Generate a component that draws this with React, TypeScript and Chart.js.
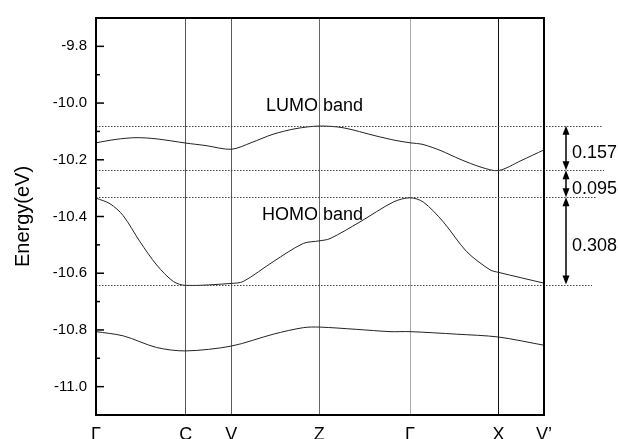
import { useEffect, useRef } from 'react';
import { Chart, registerables } from 'chart.js';

Chart.register(...registerables);

// k-path: high-symmetry point positions along the path and their labels
const kPositions = [0, 89.7, 135.3, 223.3, 314, 402.5, 448];
const kLabels = ['Γ', 'C', 'V', 'Z', 'Γ', 'X', 'V’'];

// LUMO band
const lumoK = [0, 20, 40, 60, 89.7, 110, 135.3, 155, 177, 200, 223.3, 247, 280, 300, 314, 327, 345, 364, 385, 402.5, 425, 448];
const lumoE = [-10.14, -10.128, -10.122, -10.126, -10.141, -10.15, -10.163, -10.14, -10.11, -10.09, -10.081, -10.087, -10.116, -10.132, -10.14, -10.146, -10.168, -10.198, -10.226, -10.238, -10.203, -10.165];

// HOMO band
const homoK = [0, 14, 27, 44, 60.7, 77.3, 89.7, 135.3, 147.3, 177.3, 207.3, 223.3, 234, 264, 297.3, 314, 327.3, 347.3, 370.7, 394, 402.5, 448];
const homoE = [-10.335, -10.355, -10.396, -10.489, -10.571, -10.629, -10.643, -10.636, -10.629, -10.559, -10.495, -10.486, -10.478, -10.419, -10.349, -10.334, -10.349, -10.419, -10.524, -10.588, -10.597, -10.635];

// lower band
const lowK = [0, 27.3, 60.7, 89.7, 135.3, 177.3, 207.3, 223.3, 260.7, 294, 314, 360.7, 402.5, 448];
const lowE = [-10.806, -10.821, -10.862, -10.874, -10.857, -10.815, -10.792, -10.79, -10.798, -10.806, -10.806, -10.815, -10.825, -10.854];

// energy levels (dotted) and gaps between them
const lumoMinLevel = -10.08;
const gaps = [0.157, 0.095, 0.308];

// y axis
const yMin = -11.1;
const yMax = -9.7;

const FONT = 'Liberation Sans, Arial, Helvetica, sans-serif';

const kLineColors = ['#000', '#555', '#5a5a5a', '#666', '#aaa', '#111', '#000'];
const levelLineExtents = [58, 60, 53, 48];

const levels: number[] = [lumoMinLevel];
gaps.forEach((g) => levels.push(levels[levels.length - 1] - g));

const toPts = (ks: number[], es: number[]) => ks.map((k, i) => ({ x: k, y: es[i] }));

const annotationPlugin = {
  id: 'bandAnnotations',
  afterDatasetsDraw(chart: any) {
    const { ctx, chartArea, scales } = chart;
    const xs = scales.x;
    const ys = scales.y;
    const { left, right, top, bottom } = chartArea;
    ctx.save();

    // inward y ticks
    ctx.strokeStyle = '#000';
    ctx.lineWidth = 1.5;
    ys.ticks.forEach((t: any) => {
      const y = ys.getPixelForValue(t.value);
      const major = Math.round(t.value * 10) % 2 === 0;
      ctx.beginPath();
      ctx.moveTo(left, y);
      ctx.lineTo(left + (major ? 8 : 4), y);
      ctx.stroke();
    });

    // dotted level lines
    ctx.strokeStyle = '#444';
    ctx.lineWidth = 1;
    ctx.setLineDash([1.5, 1.5]);
    levels.forEach((lv, i) => {
      const y = Math.round(ys.getPixelForValue(lv)) + 0.5;
      ctx.beginPath();
      ctx.moveTo(left, y);
      ctx.lineTo(right + levelLineExtents[i], y);
      ctx.stroke();
    });
    ctx.setLineDash([]);

    // double arrows with gap labels
    const ax = right + 22;
    ctx.strokeStyle = '#000';
    ctx.fillStyle = '#000';
    ctx.lineWidth = 1.5;
    const head = (x: number, y: number, dir: number) => {
      ctx.beginPath();
      ctx.moveTo(x, y);
      ctx.lineTo(x - 3.5, y - dir * 9);
      ctx.lineTo(x + 3.5, y - dir * 9);
      ctx.closePath();
      ctx.fill();
    };
    ctx.font = `18px ${FONT}`;
    ctx.textAlign = 'left';
    ctx.textBaseline = 'middle';
    gaps.forEach((g, i) => {
      const y1 = ys.getPixelForValue(levels[i]);
      const y2 = ys.getPixelForValue(levels[i + 1]);
      ctx.beginPath();
      ctx.moveTo(ax, y1 + 4);
      ctx.lineTo(ax, y2 - 4);
      ctx.stroke();
      head(ax, y1, -1);
      head(ax, y2, 1);
      ctx.fillText(g.toFixed(3), ax + 6, (y1 + y2) / 2 + 5);
    });

    // band labels
    ctx.font = `18px ${FONT}`;
    ctx.textAlign = 'left';
    ctx.textBaseline = 'middle';
    ctx.fillText('LUMO band', xs.getPixelForValue(170), ys.getPixelForValue(-10.01));
    ctx.fillText('HOMO band', xs.getPixelForValue(166), ys.getPixelForValue(-10.394));

    // frame
    ctx.strokeStyle = '#000';
    ctx.lineWidth = 2;
    ctx.strokeRect(left, top, right - left, bottom - top);
    ctx.restore();
  },
};

export default function App() {
  const ref = useRef<HTMLCanvasElement>(null);
  useEffect(() => {
    document.body.style.margin = '0';
    if (!ref.current) return;
    const lineStyle = {
      borderColor: '#222',
      borderWidth: 1,
      pointRadius: 0,
      tension: 0.3,
      fill: false,
    };
    const chart = new Chart(ref.current, {
      type: 'line',
      data: {
        datasets: [
          { label: 'LUMO', data: toPts(lumoK, lumoE), ...lineStyle },
          { label: 'HOMO', data: toPts(homoK, homoE), ...lineStyle },
          { label: 'lower', data: toPts(lowK, lowE), ...lineStyle },
        ],
      },
      options: {
        responsive: false,
        animation: false,
        events: [],
        layout: { padding: { left: 0, top: 14, right: 74, bottom: 0 } },
        plugins: { legend: { display: false }, tooltip: { enabled: false } },
        scales: {
          x: {
            type: 'linear',
            min: 0,
            max: 448,
            afterBuildTicks: (s: any) => {
              s.ticks = kPositions.map((v) => ({ value: v }));
            },
            afterFit: (s: any) => {
              s.height = 24;
            },
            grid: {
              display: true,
              drawTicks: false,
              color: (c: any) => kLineColors[c.index] || '#000',
              lineWidth: 1,
            },
            border: { display: false },
            ticks: {
              autoSkip: false,
              maxRotation: 0,
              padding: 9,
              color: '#000',
              font: { size: 18, family: FONT },
              callback: (_v: any, i: number) => kLabels[i],
            },
          },
          y: {
            type: 'linear',
            min: yMin,
            max: yMax,
            afterFit: (s: any) => {
              s.width = 96;
            },
            grid: { display: false, drawTicks: false },
            border: { display: false },
            ticks: {
              stepSize: 0.1,
              autoSkip: false,
              padding: 9,
              color: '#000',
              font: { size: 15, family: FONT },
              callback: (v: any) => {
                const n = Math.round(Number(v) * 10);
                return n % 2 === 0 ? (n / 10).toFixed(1) : '';
              },
            },
            title: {
              display: true,
              text: 'Energy(eV)',
              color: '#000',
              font: { size: 20, family: FONT },
              padding: { top: 11, bottom: 0 },
            },
          },
        },
      },
      plugins: [annotationPlugin],
    });
    return () => chart.destroy();
  }, []);
  return (
    <div style={{ width: 618, height: 439 }}>
      <canvas ref={ref} width={618} height={439} />
    </div>
  );
}
